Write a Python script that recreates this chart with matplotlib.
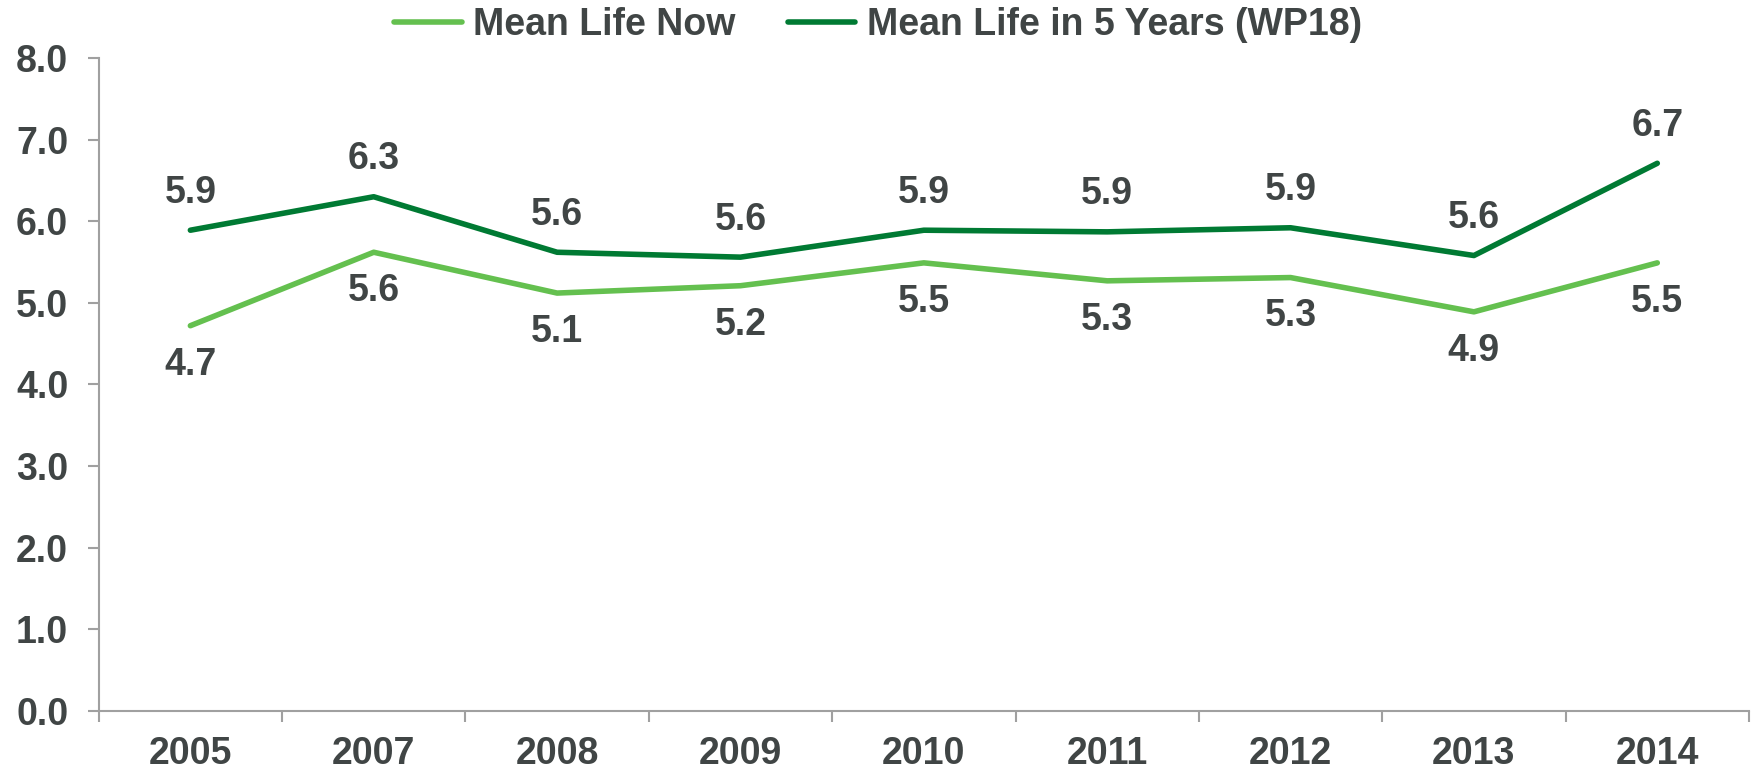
import matplotlib
matplotlib.use("Agg")
import matplotlib.pyplot as plt
import numpy as np

years = ["2005", "2007", "2008", "2009", "2010", "2011", "2012", "2013", "2014"]
life_now = [4.72, 5.62, 5.12, 5.21, 5.49, 5.27, 5.31, 4.89, 5.49]
life_5yrs = [5.89, 6.30, 5.62, 5.56, 5.89, 5.87, 5.92, 5.58, 6.71]

light_green = "#64C04F"
dark_green = "#007A33"
text_col = "#404545"
axis_col = "#A0A0A0"
fs = 27

plt.rcParams['font.family'] = ['Liberation Sans', 'DejaVu Sans']
plt.rcParams['font.weight'] = 'bold'

fig = plt.figure(figsize=(17.56, 7.73), dpi=100)
ax = fig.add_axes([0.0562, 0.0802, 0.9398, 0.8448])

x = np.arange(len(years))
ax.plot(x, life_now, color=light_green, lw=4, label="Mean Life Now", solid_capstyle='round')
ax.plot(x, life_5yrs, color=dark_green, lw=4, label="Mean Life in 5 Years (WP18)", solid_capstyle='round')

# data labels
for i in range(len(years)):
    ax.annotate("%.1f" % life_now[i], (x[i], life_now[i]), xytext=(0, -28),
                textcoords='offset points', ha='center', va='center',
                fontsize=fs, fontweight='bold', color=text_col)
    ax.annotate("%.1f" % life_5yrs[i], (x[i], life_5yrs[i]), xytext=(0, 27),
                textcoords='offset points', ha='center', va='center',
                fontsize=fs, fontweight='bold', color=text_col)

ax.set_xlim(-0.5, len(years) - 0.5)
ax.set_ylim(0, 8)
ax.set_yticks(np.arange(0, 9, 1))
ax.set_yticklabels(["%.1f" % v for v in np.arange(0, 9, 1)])
ax.set_xticks(x)
ax.set_xticklabels(years)
ax.set_xticks(np.arange(-0.5, len(years), 1), minor=True)

ax.tick_params(axis='x', which='major', length=0, pad=18, labelsize=fs, labelcolor=text_col)
ax.tick_params(axis='x', which='minor', length=8, width=1.5, color=axis_col, direction='out')
ax.tick_params(axis='y', which='major', length=8, width=1.5, color=axis_col, pad=14,
               labelsize=fs, labelcolor=text_col)

for s in ['top', 'right']:
    ax.spines[s].set_visible(False)
for s in ['left', 'bottom']:
    ax.spines[s].set_color(axis_col)
    ax.spines[s].set_linewidth(1.5)

for lbl in ax.get_xticklabels() + ax.get_yticklabels():
    lbl.set_fontweight('bold')

leg = fig.legend(loc='center', bbox_to_anchor=(0.5, 0.968), ncol=2, frameon=False,
                 fontsize=fs, handlelength=1.8, handletextpad=0.3, columnspacing=1.4)
for t in leg.get_texts():
    t.set_color(text_col)
    t.set_fontweight('bold')

fig.savefig("out.png", dpi=100)
